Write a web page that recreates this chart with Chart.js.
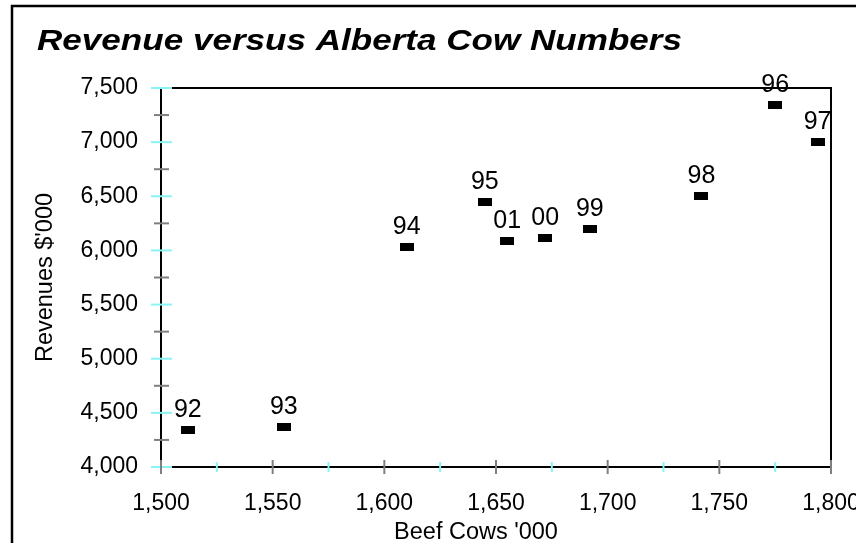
<!DOCTYPE html>
<html>
<head>
<meta charset="utf-8">
<script src="https://cdn.jsdelivr.net/npm/chart.js@4.4.1/dist/chart.umd.min.js"></script>
<style>
  html, body { margin: 0; padding: 0; background: #fff; }
  #wrap { width: 856px; height: 543px; position: relative; }
</style>
</head>
<body>
<div id="wrap"><canvas id="c" width="856" height="543"></canvas></div>
<script>
// Year labels, beef cow numbers ('000) and revenues ($'000)
const years    = ['92', '93', '94', '95', '96', '97', '98', '99', '00', '01'];
const beefCows = [1512, 1555, 1610, 1645, 1775, 1794, 1742, 1692, 1672, 1655];
const revenues = [4340, 4368, 6028, 6447, 7346, 7000, 6500, 6201, 6118, 6086];

// Axis tick values
const xTickValues = [1500, 1550, 1600, 1650, 1700, 1750, 1800];
const yTickValues = [4000, 4500, 5000, 5500, 6000, 6500, 7000, 7500];

const chartTitle = 'Revenue versus Alberta Cow Numbers';
const xTitle = "Beef Cows '000";
const yTitle = "Revenues $'000";

const FONT = "'Liberation Sans', Arial, Helvetica, sans-serif";
const CYAN = '#8af3f3';
const GREY = '#7f7f7f';

// Flat black rectangle used as the point marker
const marker = document.createElement('canvas');
marker.width = 14; marker.height = 8;
const mctx = marker.getContext('2d');
mctx.fillStyle = '#000';
mctx.fillRect(0, 0, 14, 8);

const fmt = v => Number(v).toLocaleString('en-US');

// White page with the outer frame
const framePlugin = {
  id: 'frame',
  beforeDraw(chart) {
    const ctx = chart.ctx;
    ctx.save();
    ctx.fillStyle = '#fff';
    ctx.fillRect(0, 0, chart.width, chart.height);
    ctx.strokeStyle = '#000';
    ctx.lineWidth = 2.5;
    ctx.strokeRect(12, 6, chart.width + 40, chart.height + 40);
    ctx.restore();
  }
};

// Plot box plus major/minor tick marks crossing the axes
const boxPlugin = {
  id: 'box',
  beforeDatasetsDraw(chart) {
    const { ctx, chartArea: a, scales: { x, y } } = chart;
    ctx.save();
    ctx.strokeStyle = '#000';
    ctx.lineWidth = 2;
    ctx.strokeRect(a.left, a.top, a.right - a.left, a.bottom - a.top);

    // y axis: minor grey every 250, major cyan every 500
    for (let i = 0; i < yTickValues.length - 1; i++) {
      const py = y.getPixelForValue((yTickValues[i] + yTickValues[i + 1]) / 2);
      ctx.strokeStyle = GREY;
      ctx.beginPath(); ctx.moveTo(a.left - 7, py); ctx.lineTo(a.left + 8, py); ctx.stroke();
    }
    yTickValues.forEach(v => {
      const py = y.getPixelForValue(v);
      ctx.strokeStyle = CYAN;
      ctx.beginPath(); ctx.moveTo(a.left - 10, py); ctx.lineTo(a.left + 11, py); ctx.stroke();
    });

    // x axis: minor cyan every 25, major grey every 50
    for (let i = 0; i < xTickValues.length - 1; i++) {
      const px = x.getPixelForValue((xTickValues[i] + xTickValues[i + 1]) / 2);
      ctx.strokeStyle = CYAN;
      ctx.beginPath(); ctx.moveTo(px, a.bottom - 5); ctx.lineTo(px, a.bottom + 5); ctx.stroke();
    }
    xTickValues.forEach(v => {
      const px = x.getPixelForValue(v);
      ctx.strokeStyle = GREY;
      ctx.beginPath(); ctx.moveTo(px, a.bottom - 7); ctx.lineTo(px, a.bottom + 7); ctx.stroke();
    });
    ctx.restore();
  }
};

// Year label above each marker
const yearLabels = {
  id: 'yearLabels',
  afterDatasetsDraw(chart) {
    const ctx = chart.ctx;
    const meta = chart.getDatasetMeta(0);
    ctx.save();
    ctx.font = '25px ' + FONT;
    ctx.fillStyle = '#000';
    ctx.textAlign = 'center';
    ctx.textBaseline = 'alphabetic';
    meta.data.forEach((pt, i) => {
      ctx.fillText(years[i], pt.x, pt.y - 13);
    });
    ctx.restore();
  }
};

// Chart title and axis titles
const titles = {
  id: 'titles',
  afterDraw(chart) {
    const { ctx, chartArea: a } = chart;
    ctx.save();
    ctx.fillStyle = '#000';
    ctx.textBaseline = 'alphabetic';
    ctx.textAlign = 'left';
    ctx.font = 'italic bold 30px ' + FONT;
    const w = ctx.measureText(chartTitle).width;
    ctx.translate(37, 50);
    ctx.scale(645 / w, 1);
    ctx.fillText(chartTitle, 0, 0);
    ctx.restore();

    ctx.save();
    ctx.fillStyle = '#000';
    ctx.font = '23.5px ' + FONT;
    ctx.textAlign = 'center';
    ctx.textBaseline = 'alphabetic';
    ctx.fillText(xTitle, 476, 539);
    ctx.translate(52, (a.top + a.bottom) / 2);
    ctx.rotate(-Math.PI / 2);
    ctx.fillText(yTitle, 0, 0);
    ctx.restore();
  }
};

new Chart(document.getElementById('c'), {
  type: 'scatter',
  data: {
    datasets: [{
      label: 'Revenue',
      data: beefCows.map((b, i) => ({ x: b, y: revenues[i] })),
      pointStyle: marker,
      pointRadius: 7,
      clip: false
    }]
  },
  options: {
    responsive: false,
    animation: false,
    devicePixelRatio: 1,
    layout: { padding: { top: 88, right: 25, bottom: 0, left: 0 } },
    plugins: { legend: { display: false }, title: { display: false }, tooltip: { enabled: false } },
    scales: {
      x: {
        type: 'linear',
        min: 1500, max: 1800,
        grid: { display: false },
        border: { display: false },
        afterBuildTicks: s => { s.ticks = xTickValues.map(v => ({ value: v })); },
        afterFit: s => { s.height = 76; s.paddingLeft = 0; s.paddingRight = 0; },
        ticks: {
          autoSkip: false, maxRotation: 0, padding: 15,
          color: '#000', font: { family: FONT, size: 23 },
          callback: v => fmt(v)
        }
      },
      y: {
        type: 'linear',
        min: 4000, max: 7500,
        grid: { display: false },
        border: { display: false },
        afterBuildTicks: s => { s.ticks = yTickValues.map(v => ({ value: v })); },
        afterFit: s => { s.width = 161; s.paddingTop = 0; s.paddingBottom = 0; },
        ticks: {
          autoSkip: false, padding: 15,
          color: '#000', font: { family: FONT, size: 23 },
          callback: v => fmt(v)
        }
      }
    }
  },
  plugins: [framePlugin, boxPlugin, yearLabels, titles]
});
</script>
</body>
</html>
